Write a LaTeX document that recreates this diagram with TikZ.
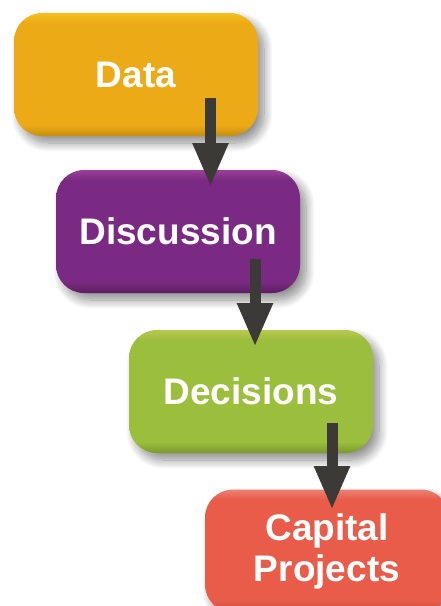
\documentclass[tikz,border=0pt]{standalone}
\usepackage{fontspec}
\setmainfont{Liberation Sans}
\usetikzlibrary{arrows.meta,shadows.blur}
\definecolor{arrowgray}{HTML}{3C3A36}
\definecolor{dataT}{HTML}{F3C11F}\definecolor{dataM}{HTML}{ECAB16}\definecolor{dataB}{HTML}{C68C10}
\definecolor{discT}{HTML}{9B3F97}\definecolor{discM}{HTML}{7A2A82}\definecolor{discB}{HTML}{5C1D61}
\definecolor{deciT}{HTML}{B9C84F}\definecolor{deciM}{HTML}{9BBE3C}\definecolor{deciB}{HTML}{7B982C}
\definecolor{capT}{HTML}{EC8074}\definecolor{capM}{HTML}{E85C49}\definecolor{capB}{HTML}{BF4838}
\pgfdeclareverticalshading{datashade}{100bp}{color(0bp)=(dataB); color(25bp)=(dataB); color(29.5bp)=(dataM); color(71bp)=(dataM); color(75bp)=(dataT); color(100bp)=(dataT)}
\pgfdeclareverticalshading{discshade}{100bp}{color(0bp)=(discB); color(25bp)=(discB); color(29.5bp)=(discM); color(71bp)=(discM); color(75bp)=(discT); color(100bp)=(discT)}
\pgfdeclareverticalshading{decishade}{100bp}{color(0bp)=(deciB); color(25bp)=(deciB); color(29.5bp)=(deciM); color(71bp)=(deciM); color(75bp)=(deciT); color(100bp)=(deciT)}
\pgfdeclareverticalshading{capshade}{100bp}{color(0bp)=(capB); color(25bp)=(capB); color(29.5bp)=(capM); color(71bp)=(capM); color(75bp)=(capT); color(100bp)=(capT)}
\tikzset{
  box/.style={rounded corners=28pt, minimum width=244pt, minimum height=123pt,
    inner sep=0pt, text=white, align=center,
    font=\bfseries\fontsize{37}{41}\selectfont,
    blur shadow={shadow xshift=6pt, shadow yshift=-7pt, shadow blur steps=14,
      shadow blur radius=9pt, shadow opacity=45}},
  arr/.style={draw=arrowgray, line width=11pt, -{Triangle[width=33pt,length=44pt]}}
}
\begin{document}
\begin{tikzpicture}[x=1pt,y=-1pt]
\useasboundingbox (0,0) rectangle (441,606);
\node[box, shading=datashade] (data) at (136,74.5) {Data};
\node[box, shading=discshade] (disc) at (178,231.5) {Discussion};
\node[box, shading=decishade] (deci) at (251,391.5) {Decisions};
\node[box, shading=capshade] (cap) at (327,551) {Capital\\Projects};
\coordinate (a1s) at (210.5,98);  \coordinate (a1e) at (210.5,187);
\coordinate (a2s) at (255,259);   \coordinate (a2e) at (255,347);
\coordinate (a3s) at (332,423);   \coordinate (a3e) at (332,510);
\draw[arr] (a1s) -- (a1e);
\draw[arr] (a2s) -- (a2e);
\draw[arr] (a3s) -- (a3e);
\end{tikzpicture}
\end{document}
